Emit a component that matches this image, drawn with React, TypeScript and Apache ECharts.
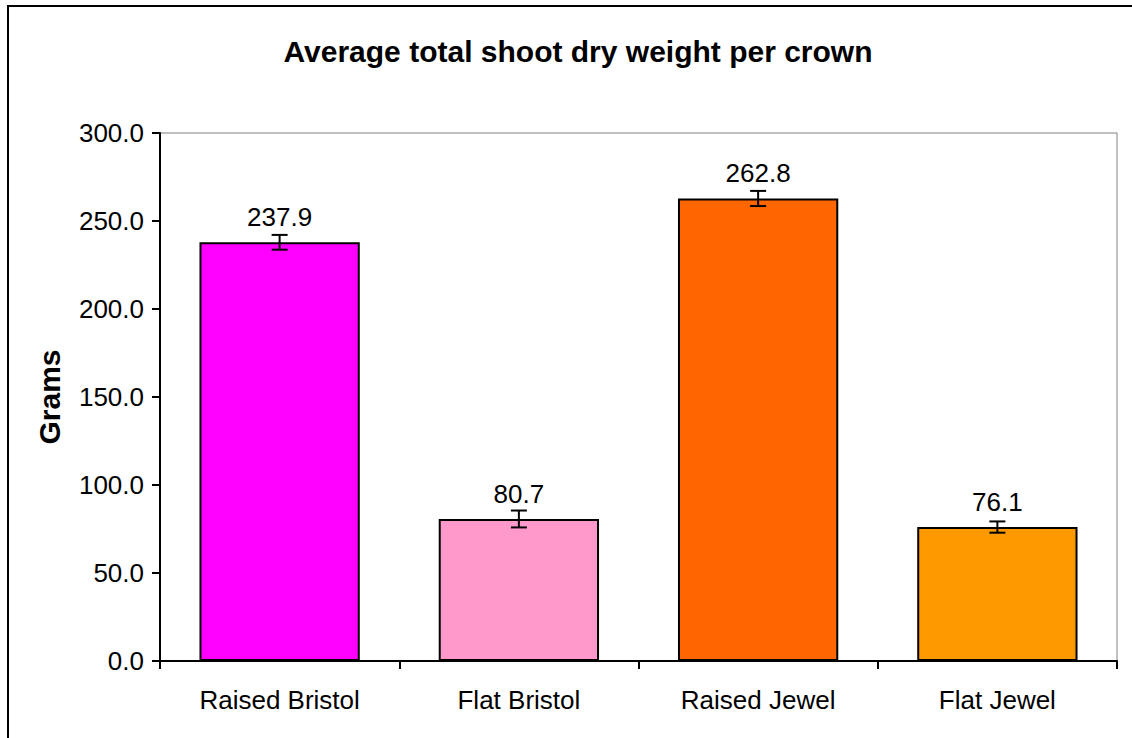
import React, { useEffect, useRef } from "react";
import * as echarts from "echarts";

const categories = ["Raised Bristol", "Flat Bristol", "Raised Jewel", "Flat Jewel"];
const values = [237.9, 80.7, 262.8, 76.1];
const errors = [4.2, 4.8, 4.3, 3.2];
const colors = ["#FF00FF", "#FF99CC", "#FF6600", "#FF9900"];
const yTicks = [0, 50, 100, 150, 200, 250, 300];

const FONT = "'Liberation Sans', Arial, sans-serif";

export default function App() {
  const ref = useRef<HTMLDivElement>(null);
  useEffect(() => {
    if (!ref.current) return;
    const chart = echarts.init(ref.current, null, { renderer: "svg" });
    chart.setOption({
      animation: false,
      backgroundColor: "#ffffff",
      textStyle: { fontFamily: FONT },
      title: {
        text: "Average total shoot dry weight per crown",
        left: 573,
        top: 31,
        textAlign: "center",
        textStyle: { fontFamily: FONT, fontWeight: "bold", fontSize: 30, color: "#000" },
      },
      graphic: [
        {
          type: "rect",
          shape: { x: 8, y: 6, width: 1140, height: 760 },
          style: { fill: "none", stroke: "#000", lineWidth: 2 },
          silent: true,
          z: 100,
        },
      ],
      grid: {
        left: 160,
        top: 133,
        right: 15,
        bottom: 77,
        show: true,
        borderColor: "#808080",
        borderWidth: 1,
        backgroundColor: "transparent",
      },
      xAxis: {
        type: "category",
        data: categories,
        axisLine: { show: true, lineStyle: { color: "#000", width: 2 } },
        axisTick: { show: true, alignWithLabel: false, length: 8, lineStyle: { color: "#000", width: 2 } },
        axisLabel: { color: "#000", fontSize: 26, fontFamily: FONT, margin: 26 },
        splitLine: { show: false },
      },
      yAxis: {
        type: "value",
        min: 0,
        max: 300,
        interval: 50,
        name: "Grams",
        nameLocation: "middle",
        nameGap: 96,
        nameRotate: 90,
        nameTextStyle: { color: "#000", fontSize: 30, fontWeight: "bold", fontFamily: FONT },
        axisLine: { show: true, lineStyle: { color: "#000", width: 2 } },
        axisTick: { show: true, length: 8, lineStyle: { color: "#000", width: 2 } },
        axisLabel: {
          color: "#000",
          fontSize: 26,
          fontFamily: FONT,
          margin: 16,
          formatter: (v: number) => (yTicks.includes(v) ? v.toFixed(1) : ""),
        },
        splitLine: { show: false },
      },
      series: [
        {
          type: "bar",
          data: values.map((v, i) => ({ value: v, itemStyle: { color: colors[i] } })),
          barCategoryGap: "33%",
          itemStyle: { borderColor: "#000", borderWidth: 2 },
          label: {
            show: true,
            position: "top",
            distance: 12,
            color: "#000",
            fontSize: 26,
            fontFamily: FONT,
            formatter: (p: any) => Number(p.value).toFixed(1),
          },
        },
        {
          type: "custom",
          data: values.map((v, i) => [i, v, errors[i]]),
          z: 10,
          renderItem: (params: any, api: any) => {
            const x = api.value(0);
            const v = api.value(1);
            const e = api.value(2);
            const top = api.coord([x, v + e]);
            const bot = api.coord([x, v - e]);
            const half = 8;
            const st = { stroke: "#000", lineWidth: 2 };
            return {
              type: "group",
              children: [
                { type: "line", shape: { x1: top[0], y1: top[1], x2: bot[0], y2: bot[1] }, style: st },
                { type: "line", shape: { x1: top[0] - half, y1: top[1], x2: top[0] + half, y2: top[1] }, style: st },
                { type: "line", shape: { x1: bot[0] - half, y1: bot[1], x2: bot[0] + half, y2: bot[1] }, style: st },
              ],
            };
          },
        },
      ],
    });
    return () => chart.dispose();
  }, []);
  return (
    <div
      ref={ref}
      style={{ position: "fixed", left: 0, top: 0, width: 1132, height: 738 }}
    />
  );
}
